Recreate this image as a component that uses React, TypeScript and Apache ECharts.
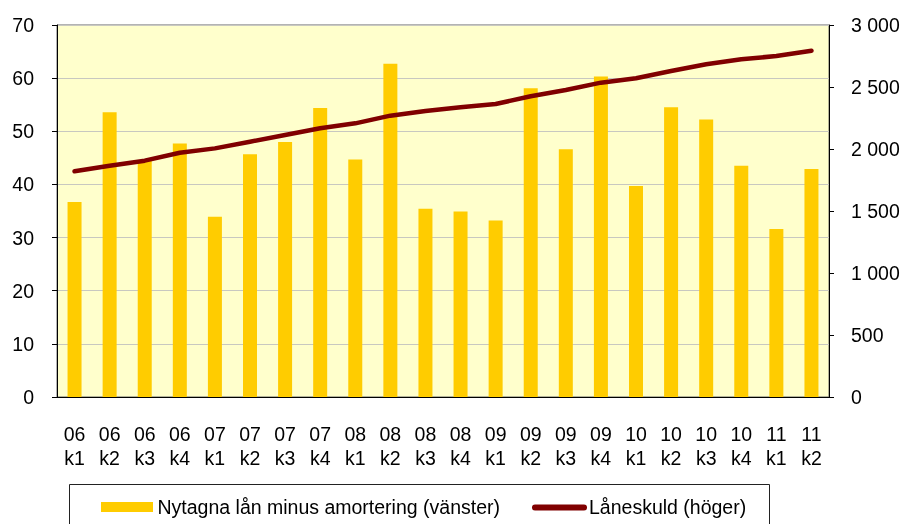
import React, { useEffect, useRef } from "react";
import * as echarts from "echarts";

const categories = [
  "06\nk1", "06\nk2", "06\nk3", "06\nk4",
  "07\nk1", "07\nk2", "07\nk3", "07\nk4",
  "08\nk1", "08\nk2", "08\nk3", "08\nk4",
  "09\nk1", "09\nk2", "09\nk3", "09\nk4",
  "10\nk1", "10\nk2", "10\nk3", "10\nk4",
  "11\nk1", "11\nk2",
];

const nettoLan = [
  36.7, 53.6, 44.4, 47.7, 33.9, 45.7, 48.0, 54.4, 44.7, 62.7, 35.4,
  34.9, 33.2, 58.1, 46.6, 60.3, 39.7, 54.5, 52.2, 43.5, 31.6, 42.9,
];

const laneskuld = [
  1820, 1865, 1906, 1970, 2005, 2059, 2113, 2167, 2207, 2269, 2306,
  2336, 2363, 2425, 2476, 2535, 2570, 2629, 2683, 2723, 2750, 2793,
];

const barName = "Nytagna lån minus amortering (vänster)";
const lineName = "Låneskuld (höger)";

const FONT = "Liberation Sans, Arial, sans-serif";

export default function App() {
  const ref = useRef<HTMLDivElement>(null);

  useEffect(() => {
    if (!ref.current) return;
    const chart = echarts.init(ref.current, undefined, { renderer: "svg" });
    const fmt = (v: number) =>
      String(v).replace(/\B(?=(\d{3})+(?!\d))/g, " ");
    chart.setOption({
      animation: false,
      textStyle: { fontFamily: FONT },
      grid: {
        left: 57,
        right: 80,
        top: 25,
        bottom: 127,
        show: true,
        backgroundColor: "#FFFFCC",
        borderColor: "#666666",
        borderWidth: 1,
      },
      xAxis: {
        type: "category",
        data: categories,
        axisLine: { show: true, lineStyle: { color: "#000000", width: 1 } },
        axisTick: { show: false },
        axisLabel: {
          color: "#000000",
          fontSize: 19.5,
          lineHeight: 24,
          margin: 25,
          interval: 0,
          fontFamily: FONT,
        },
      },
      yAxis: [
        {
          type: "value",
          min: 0,
          max: 70,
          interval: 10,
          position: "left",
          axisLine: { show: true, lineStyle: { color: "#000000", width: 1 } },
          axisTick: { show: true, length: 5, lineStyle: { color: "#000000" } },
          axisLabel: { color: "#000000", fontSize: 19.5, margin: 23, fontFamily: FONT },
          splitLine: { show: true, lineStyle: { color: "#C8C8C0", width: 1 } },
        },
        {
          type: "value",
          min: 0,
          max: 3000,
          interval: 500,
          position: "right",
          axisLine: { show: true, lineStyle: { color: "#000000", width: 1 } },
          axisTick: { show: true, length: 5, lineStyle: { color: "#000000" } },
          axisLabel: {
            color: "#000000",
            fontSize: 19.5,
            margin: 22,
            fontFamily: FONT,
            formatter: fmt,
          },
          splitLine: { show: false },
        },
      ],
      series: [
        {
          name: barName,
          type: "bar",
          data: nettoLan,
          yAxisIndex: 0,
          barWidth: 14,
          itemStyle: { color: "#FFCC00" },
        },
        {
          name: lineName,
          type: "line",
          data: laneskuld,
          yAxisIndex: 1,
          symbol: "none",
          showSymbol: false,
          lineStyle: { color: "#800000", width: 4.5, cap: "round", join: "round" },
          z: 5,
        },
      ],
      graphic: [
        {
          type: "rect",
          shape: { x: 69.5, y: 484.5, width: 700, height: 60 },
          style: { fill: "#FFFFFF", stroke: "#222222", lineWidth: 1 },
          silent: true,
        },
        {
          type: "rect",
          shape: { x: 101, y: 502, width: 52, height: 10 },
          style: { fill: "#FFCC00" },
          silent: true,
        },
        {
          type: "text",
          x: 157.5,
          y: 507,
          style: {
            text: barName,
            font: `19.5px ${FONT}`,
            fill: "#000000",
            textVerticalAlign: "middle",
            verticalAlign: "middle",
          },
          silent: true,
        },
        {
          type: "line",
          shape: { x1: 535, y1: 507.5, x2: 584, y2: 507.5 },
          style: { stroke: "#800000", lineWidth: 6, lineCap: "round" },
          silent: true,
        },
        {
          type: "text",
          x: 589,
          y: 507,
          style: {
            text: lineName,
            font: `19.5px ${FONT}`,
            fill: "#000000",
            textVerticalAlign: "middle",
            verticalAlign: "middle",
          },
          silent: true,
        },
      ],
    });
    return () => chart.dispose();
  }, []);

  return (
    <div
      ref={ref}
      style={{ position: "fixed", left: 0, top: 0, width: 909, height: 524 }}
    />
  );
}
